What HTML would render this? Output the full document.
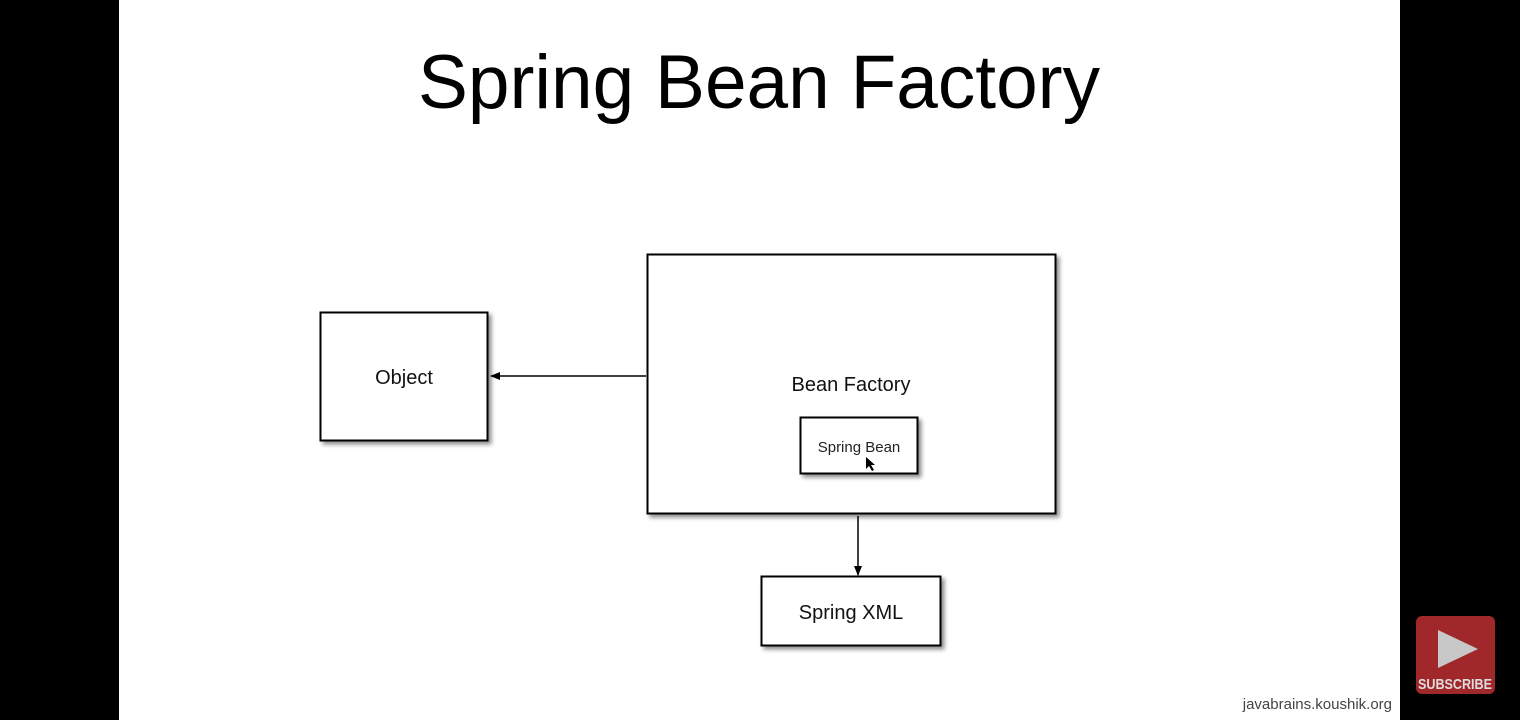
<!DOCTYPE html>
<html><head><meta charset="utf-8"><style>
html,body{margin:0;padding:0;background:#000;width:1520px;height:720px;overflow:hidden}
svg{display:block}
text{font-family:"Liberation Sans",sans-serif}
</style></head><body>
<svg width="1520" height="720" viewBox="0 0 1520 720" xmlns="http://www.w3.org/2000/svg">
<defs>
<filter id="sh" x="-10%" y="-10%" width="130%" height="130%"><feDropShadow dx="3" dy="3" stdDeviation="2" flood-color="#000" flood-opacity="0.45"/></filter>
<marker id="ah" markerWidth="10" markerHeight="8" refX="9" refY="4" orient="auto" markerUnits="userSpaceOnUse"><path d="M0,0 L10,4 L0,8 Z" fill="#000"/></marker>
</defs>
<rect x="0" y="0" width="1520" height="720" fill="#000"/>
<rect x="119" y="0" width="1281" height="720" fill="#fff"/>
<text x="418" y="108" font-size="76" textLength="682" lengthAdjust="spacingAndGlyphs" fill="#000">Spring Bean Factory</text>

<rect x="320.5" y="312.5" width="167" height="128" fill="#fff" stroke="#000" stroke-width="2" filter="url(#sh)"/>
<text x="404" y="384" font-size="20" text-anchor="middle" fill="#111">Object</text>

<rect x="647.5" y="254.5" width="408" height="259" fill="#fff" stroke="#000" stroke-width="2" filter="url(#sh)"/>
<text x="851" y="391" font-size="20" text-anchor="middle" fill="#111">Bean Factory</text>

<rect x="800.5" y="417.5" width="117" height="56" fill="#fff" stroke="#000" stroke-width="2" filter="url(#sh)"/>
<text x="859" y="452" font-size="15" text-anchor="middle" fill="#222">Spring Bean</text>
<path d="M866,457 L866,469 L869,466 L872,471 L874,470 L871,465 L875,465 Z" fill="#000"/>

<rect x="761.5" y="576.5" width="179" height="69" fill="#fff" stroke="#000" stroke-width="2" filter="url(#sh)"/>
<text x="851" y="619" font-size="20" text-anchor="middle" fill="#111">Spring XML</text>

<line x1="646" y1="376" x2="491" y2="376" stroke="#000" stroke-width="1.5" marker-end="url(#ah)"/>
<line x1="858" y1="516" x2="858" y2="575" stroke="#000" stroke-width="1.5" marker-end="url(#ah)"/>

<text x="1392" y="709" font-size="15" text-anchor="end" fill="#444">javabrains.koushik.org</text>

<rect x="1416" y="616" width="79" height="78" rx="6" fill="#a0272a"/>
<path d="M1438,630 L1478,649 L1438,668 Z" fill="#c8c8c8"/>
<text x="1455" y="689" font-size="15" font-weight="bold" text-anchor="middle" textLength="74" lengthAdjust="spacingAndGlyphs" fill="#ddd">SUBSCRIBE</text>
</svg>
</body></html>
